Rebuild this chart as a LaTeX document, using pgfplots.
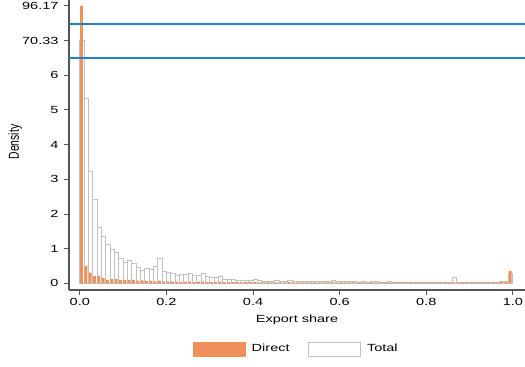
\documentclass[border=0pt]{standalone}
\usepackage{pgfplots}
\pgfplotsset{compat=1.18}
\usepackage{pgfplotstable}
\usepackage{fontspec}
\setmainfont{Liberation Sans}[FakeStretch=1.4]
\newfontfamily\rotfont{Liberation Sans}[FakeStretch=0.714]
\definecolor{dirorange}{RGB}{240,145,92}
\definecolor{refblue}{RGB}{28,132,198}
\definecolor{bargray}{RGB}{192,192,192}
\definecolor{axgray}{RGB}{85,85,85}

% Total: bin centres, visual heights (bin 0: 7 = 70.33 on broken axis)
\pgfplotstableread{
x y
0.005 7
0.015 5.33
0.025 3.24
0.035 2.42
0.045 1.62
0.055 1.36
0.065 1.12
0.075 0.99
0.085 0.89
0.095 0.71
0.105 0.61
0.115 0.66
0.125 0.58
0.135 0.46
0.145 0.37
0.155 0.43
0.165 0.40
0.175 0.50
0.185 0.72
0.195 0.34
0.205 0.32
0.215 0.29
0.225 0.23
0.235 0.26
0.245 0.25
0.255 0.29
0.265 0.24
0.275 0.23
0.285 0.28
0.295 0.19
0.305 0.18
0.315 0.17
0.325 0.19
0.335 0.13
0.345 0.13
0.355 0.13
0.365 0.10
0.375 0.10
0.385 0.10
0.395 0.10
0.405 0.12
0.415 0.08
0.425 0.07
0.435 0.07
0.445 0.07
0.455 0.08
0.465 0.07
0.475 0.07
0.485 0.10
0.495 0.07
0.505 0.06
0.515 0.06
0.525 0.07
0.535 0.06
0.545 0.06
0.555 0.05
0.565 0.06
0.575 0.05
0.585 0.09
0.595 0.06
0.605 0.05
0.615 0.05
0.625 0.05
0.635 0.05
0.645 0.04
0.655 0.05
0.665 0.04
0.675 0.06
0.685 0.05
0.695 0.04
0.705 0.04
0.715 0.05
0.725 0.04
0.735 0.04
0.745 0.04
0.755 0.03
0.765 0.04
0.775 0.04
0.785 0.04
0.795 0.03
0.805 0.03
0.815 0.04
0.825 0.03
0.835 0.03
0.845 0.03
0.855 0.04
0.865 0.17
0.875 0.04
0.885 0.03
0.895 0.04
0.905 0.03
0.915 0.03
0.925 0.03
0.935 0.03
0.945 0.03
0.955 0.03
0.965 0.04
0.975 0.06
0.985 0.06
0.995 0.28
}\totaltab

% Direct: bin centres, visual heights (bin 0: 8 = 96.17 on broken axis)
\pgfplotstableread{
x y
0.005 8
0.015 0.50
0.025 0.31
0.035 0.21
0.045 0.21
0.055 0.15
0.065 0.10
0.075 0.12
0.085 0.12
0.095 0.10
0.105 0.10
0.115 0.10
0.125 0.10
0.135 0.08
0.145 0.09
0.155 0.07
0.165 0.07
0.175 0.06
0.185 0.08
0.195 0.06
0.205 0.05
0.215 0.05
0.225 0.05
0.235 0.04
0.245 0.05
0.255 0.05
0.265 0.04
0.275 0.05
0.285 0.05
0.295 0.04
0.305 0.04
0.315 0.04
0.325 0.05
0.335 0.04
0.345 0.04
0.355 0.04
0.365 0.04
0.375 0.03
0.385 0.04
0.395 0.04
0.405 0.04
0.415 0.03
0.425 0.03
0.435 0.04
0.445 0.03
0.455 0.03
0.465 0.03
0.475 0.03
0.485 0.04
0.495 0.03
0.505 0.03
0.515 0.03
0.525 0.03
0.535 0.03
0.545 0.03
0.555 0.03
0.565 0.03
0.575 0.03
0.585 0.04
0.595 0.03
0.605 0.03
0.615 0.03
0.625 0.03
0.635 0.03
0.645 0.03
0.655 0.03
0.665 0.03
0.675 0.03
0.685 0.03
0.695 0.03
0.705 0.03
0.715 0.03
0.725 0.03
0.735 0.03
0.745 0.03
0.755 0.03
0.765 0.03
0.775 0.03
0.785 0.03
0.795 0.03
0.805 0.03
0.815 0.03
0.825 0.03
0.835 0.03
0.845 0.03
0.855 0.03
0.865 0.03
0.875 0.03
0.885 0.03
0.895 0.03
0.905 0.03
0.915 0.03
0.925 0.03
0.935 0.03
0.945 0.03
0.955 0.03
0.965 0.03
0.975 0.04
0.985 0.04
0.995 0.36
}\directtab

\begin{document}
\begin{tikzpicture}
\begin{axis}[
  at={(0,0)}, anchor=south west,
  scale only axis, width=456bp, height=290bp,
  xmin=-0.025, xmax=1.028, ymin=-0.19, ymax=8.17,
  axis x line*=bottom, axis y line*=left,
  axis line style={axgray, line width=1.2bp},
  every tick/.style={axgray, line width=1bp},
  tick align=outside, major tick length=5bp,
  xtick={0,0.2,0.4,0.6,0.8,1},
  xticklabels={0.0,0.2,0.4,0.6,0.8,1.0},
  ytick={0,1,2,3,4,5,6,7,8},
  yticklabels={0,1,2,3,4,5,6,70.33,96.17},
  /pgf/number format/assume math mode=true,
  tick label style={font=\fontsize{10.4}{12}\selectfont, black},
  yticklabel style={xshift=-2bp},
  xlabel={Export share},
  xlabel style={at={(axis description cs:0.5,-0.1034)}, anchor=center, font=\fontsize{10.4}{12}\selectfont},
  ylabel={Density},
  ylabel style={at={(axis description cs:-0.118,0.51)}, anchor=center, font=\rotfont\fontsize{14.6}{16}\selectfont},
  legend style={at={(axis description cs:0.498,-0.2034)}, anchor=center,
    draw=none, fill=none, legend columns=-1,
    font=\fontsize{10.4}{12}\selectfont,
    /tikz/every even column/.append style={column sep=16bp}},
]
\addplot[ybar, bar width=0.01, bar shift=0, fill=white, draw=bargray, line width=0.8bp, forget plot] table[x=x,y=y] {\totaltab};
\addplot[ybar, bar width=0.0065, bar shift=-0.001, fill=dirorange, draw=none, forget plot] table[x=x,y=y] {\directtab};
\addplot[draw=refblue, line width=1.2bp, forget plot] coordinates {(-0.025,6.5) (1.028,6.5)};
\addplot[draw=refblue, line width=1.2bp, forget plot] coordinates {(-0.025,7.48) (1.028,7.48)};
\addlegendimage{legend image code/.code={\fill[dirorange] (0bp,-7bp) rectangle (52bp,7bp); \path[draw=none] (0bp,0bp) rectangle (57bp,0bp);}}
\addlegendentry{Direct}
\addlegendimage{legend image code/.code={\filldraw[fill=white, draw=bargray, line width=0.8bp] (0bp,-7bp) rectangle (52bp,7bp); \path[draw=none] (0bp,0bp) rectangle (57bp,0bp);}}
\addlegendentry{Total}
\end{axis}
\pgfresetboundingbox
\path (-69bp,-77bp) rectangle (456bp,290bp);
\end{tikzpicture}
\end{document}
